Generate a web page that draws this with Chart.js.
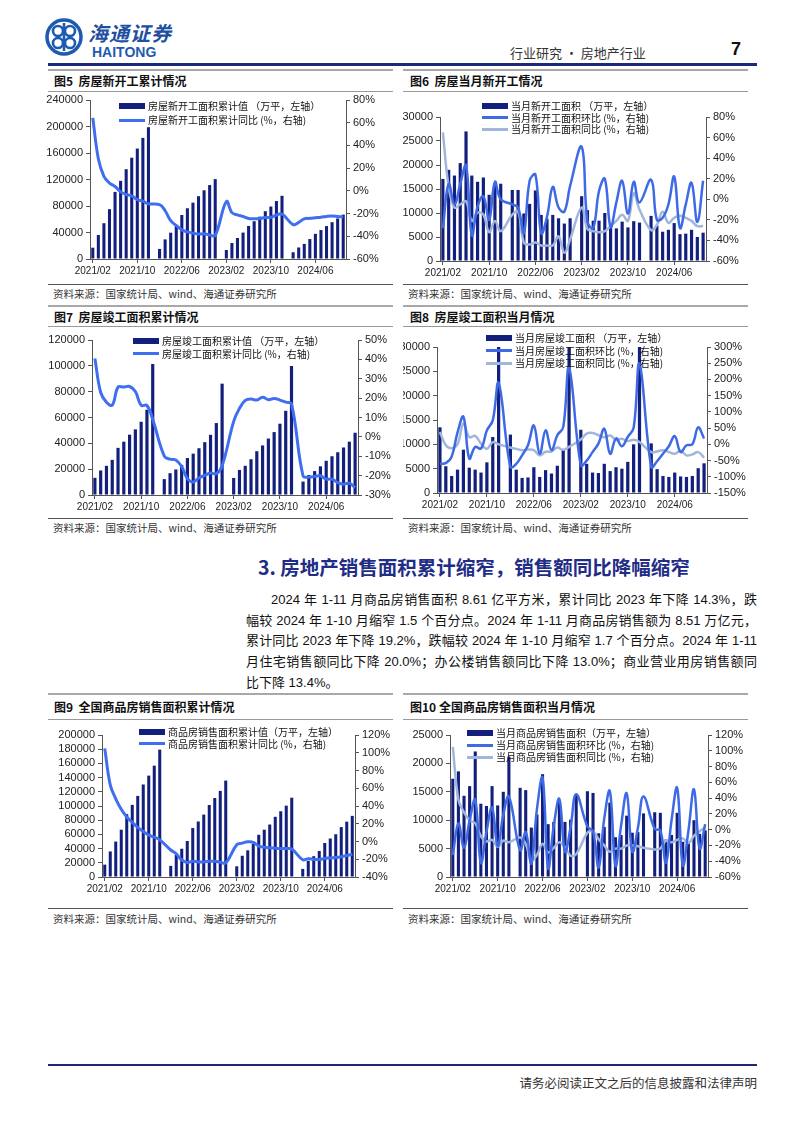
<!DOCTYPE html>
<html>
<head>
<meta charset="utf-8">
<script src="https://cdn.jsdelivr.net/npm/chart.js@4.4.1/dist/chart.umd.min.js"></script>
<style>
  body { margin:0; background:#fff; width:802px; height:1133px; position:relative; overflow:hidden;
         font-family:"Noto Sans CJK SC", sans-serif; color:#111; }
  .hl { position:absolute; height:0; }
  .ftitle { position:absolute; font-size:12px; font-weight:bold; line-height:16px; white-space:nowrap; color:#111; }
  .src { position:absolute; font-size:10.5px; line-height:14px; color:#333; white-space:nowrap; }
  .legend { position:absolute; font-size:10px; color:#111; white-space:nowrap; }
  .legend div { display:flex; align-items:center; }
  .legend .sw { display:inline-block; width:26px; margin-right:3px; }
  canvas { position:absolute; }
  .para div { font-family:"Liberation Sans","Noto Sans CJK SC",sans-serif; font-size:13px; line-height:20.7px;
              text-align:justify; text-align-last:justify; white-space:nowrap; color:#111; }
</style>
</head>
<body>

<!-- header -->
<svg style="position:absolute;left:44px;top:17px" width="40" height="40" viewBox="0 0 40 40">
  <circle cx="20" cy="20" r="17" fill="none" stroke="#1e5bb0" stroke-width="3.5"/>
  <circle cx="14" cy="14" r="5" fill="none" stroke="#1e5bb0" stroke-width="2.6"/>
  <circle cx="26" cy="14" r="5" fill="none" stroke="#1e5bb0" stroke-width="2.6"/>
  <circle cx="14" cy="26" r="5" fill="none" stroke="#1e5bb0" stroke-width="2.6"/>
  <circle cx="26" cy="26" r="5" fill="none" stroke="#1e5bb0" stroke-width="2.6"/>
  <line x1="20" y1="6" x2="20" y2="34" stroke="#1e5bb0" stroke-width="2.6"/>
</svg>
<div style="position:absolute;left:88px;top:18px;font-size:20px;font-style:italic;font-weight:bold;color:#1e4fa0;letter-spacing:1px">海通证券</div>
<div style="position:absolute;left:92px;top:44px;font-family:'Liberation Sans',Arial;font-size:14px;font-weight:bold;color:#1e5bb0">HAITONG</div>
<div style="position:absolute;left:510px;top:43px;font-size:13px;color:#333">行业研究 · 房地产行业</div>
<div style="position:absolute;left:731px;top:39px;font-family:'Liberation Sans',Arial;font-size:18px;font-weight:bold;color:#111">7</div>
<div class="hl" style="left:48px;top:63px;width:709px;border-top:3px solid #1b2a78"></div>

<!-- row 1 frame -->
<div class="hl" style="left:48px;top:69px;width:345px;border-top:2px solid #a8a8a8"></div>
<div class="hl" style="left:403px;top:69px;width:345px;border-top:2px solid #a8a8a8"></div>
<div class="ftitle" style="left:54px;top:73px">图5&nbsp;&nbsp;房屋新开工累计情况</div>
<div class="ftitle" style="left:410px;top:73px">图6&nbsp;&nbsp;房屋当月新开工情况</div>
<div class="hl" style="left:48px;top:91px;width:345px;border-top:1px solid #999"></div>
<div class="hl" style="left:403px;top:91px;width:345px;border-top:1px solid #999"></div>
<div class="hl" style="left:48px;top:284px;width:345px;border-top:1px solid #555"></div>
<div class="hl" style="left:403px;top:284px;width:345px;border-top:1px solid #555"></div>
<div class="src" style="left:53px;top:287px">资料来源：国家统计局、wind、海通证券研究所</div>
<div class="src" style="left:408px;top:287px">资料来源：国家统计局、wind、海通证券研究所</div>

<!-- row 2 frame -->
<div class="hl" style="left:48px;top:305px;width:345px;border-top:2px solid #a8a8a8"></div>
<div class="hl" style="left:403px;top:305px;width:345px;border-top:2px solid #a8a8a8"></div>
<div class="ftitle" style="left:54px;top:309px">图7&nbsp;&nbsp;房屋竣工面积累计情况</div>
<div class="ftitle" style="left:410px;top:309px">图8&nbsp;&nbsp;房屋竣工面积当月情况</div>
<div class="hl" style="left:48px;top:326px;width:345px;border-top:1px solid #999"></div>
<div class="hl" style="left:403px;top:326px;width:345px;border-top:1px solid #999"></div>
<div class="hl" style="left:48px;top:518px;width:345px;border-top:1px solid #555"></div>
<div class="hl" style="left:403px;top:518px;width:345px;border-top:1px solid #555"></div>
<div class="src" style="left:53px;top:521px">资料来源：国家统计局、wind、海通证券研究所</div>
<div class="src" style="left:408px;top:521px">资料来源：国家统计局、wind、海通证券研究所</div>

<!-- section text -->
<div style="position:absolute;left:258px;top:552px;font-size:19.5px;font-weight:bold;color:#1f2d86;white-space:nowrap">3. 房地产销售面积累计缩窄，销售额同比降幅缩窄</div>
<div class="para" style="position:absolute;left:246px;top:590px;width:511px">
  <div style="padding-left:25px">2024 年 1-11 月商品房销售面积 8.61 亿平方米，累计同比 2023 年下降 14.3%，跌</div>
  <div>幅较 2024 年 1-10 月缩窄 1.5 个百分点。2024 年 1-11 月商品房销售额为 8.51 万亿元，</div>
  <div>累计同比 2023 年下降 19.2%，跌幅较 2024 年 1-10 月缩窄 1.7 个百分点。2024 年 1-11</div>
  <div>月住宅销售额同比下降 20.0%；办公楼销售额同比下降 13.0%；商业营业用房销售额同</div>
  <div style="text-align:left;text-align-last:left">比下降 13.4%。</div>
</div>

<!-- row 3 frame -->
<div class="hl" style="left:48px;top:693px;width:345px;border-top:2px solid #a8a8a8"></div>
<div class="hl" style="left:403px;top:693px;width:345px;border-top:2px solid #a8a8a8"></div>
<div class="ftitle" style="left:54px;top:699px">图9&nbsp;&nbsp;全国商品房销售面积累计情况</div>
<div class="ftitle" style="left:410px;top:699px">图10 全国商品房销售面积当月情况</div>
<div class="hl" style="left:48px;top:719px;width:345px;border-top:1px solid #999"></div>
<div class="hl" style="left:403px;top:719px;width:345px;border-top:1px solid #999"></div>
<div class="hl" style="left:48px;top:908px;width:345px;border-top:1px solid #555"></div>
<div class="hl" style="left:403px;top:908px;width:345px;border-top:1px solid #555"></div>
<div class="src" style="left:53px;top:912px">资料来源：国家统计局、wind、海通证券研究所</div>
<div class="src" style="left:408px;top:912px">资料来源：国家统计局、wind、海通证券研究所</div>

<!-- footer -->
<div class="hl" style="left:48px;top:1064px;width:709px;border-top:2px solid #1b2a78"></div>
<div style="position:absolute;right:45px;top:1073px;font-size:12.5px;color:#333;white-space:nowrap">请务必阅读正文之后的信息披露和法律声明</div>

<!-- charts -->
<canvas id="c5" width="348" height="194" style="left:45px;top:90px"></canvas>
<canvas id="c6" width="345" height="190" style="left:403px;top:93px"></canvas>
<canvas id="c7" width="348" height="189" style="left:45px;top:328px"></canvas>
<canvas id="c8" width="345" height="189" style="left:403px;top:328px"></canvas>
<canvas id="c9" width="348" height="186" style="left:45px;top:721px"></canvas>
<canvas id="c10" width="345" height="186" style="left:403px;top:721px"></canvas>

<!-- legends -->
<div class="legend" style="left:119px;top:99px;line-height:14px">
  <div><span class="sw" style="height:6px;background:#131f7c"></span>房屋新开工面积累计值 （万平，左轴）</div>
  <div><span class="sw" style="height:3px;background:#3f6ff0"></span>房屋新开工面积累计同比 (%，右轴)</div>
</div>
<div class="legend" style="left:482px;top:100px;line-height:11.7px">
  <div><span class="sw" style="height:6px;background:#131f7c"></span>当月新开工面积 （万平，左轴）</div>
  <div><span class="sw" style="height:3px;background:#3f6ae6"></span>当月新开工面积环比 (%，右轴)</div>
  <div><span class="sw" style="height:3px;background:#a0b6dc"></span>当月新开工面积同比 (%，右轴)</div>
</div>
<div class="legend" style="left:133px;top:335px;line-height:12.5px">
  <div><span class="sw" style="height:6px;background:#131f7c"></span>房屋竣工面积累计值 （万平，左轴）</div>
  <div><span class="sw" style="height:3px;background:#3f6ff0"></span>房屋竣工面积累计同比 (%，右轴)</div>
</div>
<div class="legend" style="left:486px;top:332px;line-height:12.5px">
  <div><span class="sw" style="height:6px;background:#131f7c"></span>当月房屋竣工面积 （万平，左轴）</div>
  <div><span class="sw" style="height:3px;background:#3f6ae6"></span>当月房屋竣工面积环比 (%，右轴)</div>
  <div><span class="sw" style="height:3px;background:#a0b6dc"></span>当月房屋竣工面积同比 (%，右轴)</div>
</div>
<div class="legend" style="left:139px;top:726px;line-height:11.5px">
  <div><span class="sw" style="height:6px;background:#131f7c"></span>商品房销售面积累计值（万平，左轴）</div>
  <div><span class="sw" style="height:3px;background:#3f6ff0"></span>商品房销售面积累计同比 (%，右轴)</div>
</div>
<div class="legend" style="left:467px;top:727px;line-height:12px">
  <div><span class="sw" style="height:6px;background:#131f7c"></span>当月商品房销售面积（万平，左轴）</div>
  <div><span class="sw" style="height:3px;background:#3f6ae6"></span>当月商品房销售面积环比 (%，右轴)</div>
  <div><span class="sw" style="height:3px;background:#a0b6dc"></span>当月商品房销售面积同比 (%，右轴)</div>
</div>

<script>
// months 2021/02 .. 2024/11 (January values are reported together with February)
const months = [
  '2021/02','2021/03','2021/04','2021/05','2021/06','2021/07','2021/08','2021/09','2021/10','2021/11','2021/12',
  '2022/01','2022/02','2022/03','2022/04','2022/05','2022/06','2022/07','2022/08','2022/09','2022/10','2022/11','2022/12',
  '2023/01','2023/02','2023/03','2023/04','2023/05','2023/06','2023/07','2023/08','2023/09','2023/10','2023/11','2023/12',
  '2024/01','2024/02','2024/03','2024/04','2024/05','2024/06','2024/07','2024/08','2024/09','2024/10','2024/11'
];

// fig 5: new starts, cumulative
const newStartCum = [17100, 36200, 54000, 75200, 101300, 118000, 135600, 152900, 166700, 182800, 198900, null,
  15200, 29600, 39700, 51600, 66400, 76600, 85000, 94800, 103700, 111600, 120600, null,
  13600, 24100, 31700, 39900, 49900, 57000, 63900, 72100, 79200, 87500, 95400, null,
  10200, 17400, 22800, 30100, 38000, 43700, 49700, 55600, 61200, 67000];
const newStartCumYoY = [64.3, 28.2, 12.8, 6.9, 3.8, -0.9, -3.2, -4.5, -7.7, -9.1, -11.4, null,
  -12.2, -17.5, -26.3, -30.6, -34.4, -36.1, -37.2, -38.0, -37.8, -38.9, -39.4, null,
  -9.4, -19.2, -21.2, -22.6, -24.3, -24.5, -24.4, -23.4, -23.2, -21.2, -20.4, null,
  -29.7, -27.8, -24.6, -24.2, -23.7, -23.2, -22.5, -22.2, -22.6, -23.0];

// fig 6: new starts, monthly
const newStartMonth = [17100, 19000, 17800, 20400, 27000, 17800, 16500, 17400, 13800, 16100, 16100, null,
  14800, 14800, 9900, 11900, 14700, 9600, 8800, 9600, 8900, 7800, 8900, null,
  13500, 10600, 8400, 8400, 10000, 7600, 6800, 8200, 7000, 8300, 8000, null,
  9400, 7400, 6100, 6500, 7900, 5600, 5700, 6500, 5000, 5900];
const newStartMoM = [-28, 15, -5, 15, 33, -35, -7, 3, -20, 17, 0, null,
  -5, -8, -33, 18, 24, -33, -17, 12, -8, -12, 13, null,
  51, -22, -28, 8, 20, -27, -3, 18, -14, 17, -3, null,
  19, -20, -18, -5, 22, -28, -5, 16, -22, 18];
const newStartYoY = [65, 12, -8, -5, -2, -21, -13, -15, -32, -21, -31, null,
  -15, -12, -42, -44, -42, -45, -45, -45, -36, -52, -39, null,
  -8, -29, -31, -32, -31, -26, -21, -15, -21, 6, -10, null,
  -30, -25, -12, -23, -18, -16, -18, -21, -26, -26];

// fig 7: completions, cumulative
const compCum = [13300, 19000, 22600, 27200, 36500, 41300, 46700, 50800, 56700, 66000, 101400, null,
  12300, 16900, 19800, 23300, 28600, 32000, 36200, 40900, 46600, 55700, 86200, null,
  13200, 19400, 22600, 27700, 33900, 38400, 43700, 48700, 55200, 65200, 99800, null,
  10400, 15500, 18500, 22200, 26500, 30000, 33100, 36800, 41300, 48200];
const compCumYoY = [40.4, 22.9, 17.9, 16.4, 25.7, 25.7, 26.0, 23.4, 16.3, 16.2, 9.0, null,
  -9.9, -11.5, -11.9, -15.3, -21.5, -23.3, -21.1, -19.9, -18.7, -19.0, -15.0, null,
  8.0, 14.7, 18.8, 19.6, 19.0, 20.5, 19.2, 19.8, 19.0, 17.9, 17.0, null,
  -20.2, -20.7, -20.4, -20.1, -21.8, -21.8, -23.6, -24.4, -23.9, -26.2];

// fig 8: completions, monthly (Dec bars run past the 30000 top)
const compMonth = [13500, 5500, 3500, 4800, 8900, 5200, 4800, 4200, 6300, 11500, 36000, null,
  12000, 4800, 3100, 3200, 5300, 3300, 4700, 4000, 5600, 9000, 31000, null,
  13000, 6000, 4200, 4100, 6000, 4500, 5300, 5000, 6400, 10000, 34500, null,
  10200, 4900, 3500, 3300, 4200, 3400, 3300, 3500, 5100, 6100];
const compMoM = [-60, -58, -38, 37, 85, -44, -8, -13, 43, 74, 189, null,
  -70, -60, -34, -3, 58, -29, 43, -18, 28, 53, 235, null,
  -65, -50, -24, 2, 48, -29, 18, -6, 23, 51, 248, null,
  -70, -52, -29, -6, 25, -24, -3, 0, 52, 18];
const compYoY = [38, -3, -12, 0, 64, 22, 26, 2, -14, 7, 0, null,
  -10, -14, -18, -16, -18, -34, -23, -22, -10, -17, -8, null,
  15, 33, 35, 28, 22, 27, 14, 17, 10, 14, 7, null,
  -24, -22, -18, -24, -29, -20, -34, -31, -24, -41];

// fig 9: sales area, cumulative
const salesCum = [17400, 36000, 49900, 66600, 88600, 101600, 114200, 130300, 142800, 156800, 179400, null,
  15700, 31000, 39800, 50700, 68900, 78200, 87900, 101400, 111200, 121300, 135800, null,
  15100, 29900, 37600, 46400, 59500, 66600, 73900, 84800, 92600, 100500, 111700, null,
  11400, 22700, 29300, 36600, 47900, 54200, 60200, 70300, 77900, 86100];
const salesCumYoY = [104.9, 63.8, 48.1, 36.3, 27.7, 21.5, 15.9, 11.3, 7.2, 4.8, 1.9, null,
  -9.6, -13.8, -20.9, -23.6, -22.2, -23.1, -23.0, -22.2, -22.3, -23.3, -24.3, null,
  -3.6, -1.8, -0.4, -0.9, -5.3, -6.5, -7.1, -7.5, -7.8, -8.0, -8.5, null,
  -20.5, -19.4, -20.2, -20.3, -19.0, -18.6, -18.0, -17.1, -15.8, -14.3];

// fig 10: sales area, monthly
const salesMonth = [17300, 18600, 14300, 16000, 22100, 12900, 12500, 16000, 12600, 15000, 21200, null,
  15700, 15300, 8700, 11000, 18100, 9300, 9700, 13500, 9700, 10100, 14600, null,
  15100, 14800, 7700, 8800, 13100, 7000, 7400, 10800, 7800, 7900, 11200, null,
  11400, 11300, 6600, 7400, 11300, 6200, 6100, 10000, 7600, 8200];
const salesMoM = [-32, 8, -23, 12, 38, -42, -3, 28, -21, 19, 42, null,
  -26, -3, -43, 26, 66, -49, 5, 39, -28, 3, 45, null,
  4, -2, -48, 14, 49, -46, 5, 46, -28, 2, 42, null,
  1, -1, -42, 12, 53, -45, -2, 51, -24, 7];
const salesYoY = [105, 38, 22, 12, 8, -8, -15, -13, -22, -14, -16, null,
  -10, -18, -39, -32, -18, -29, -23, -16, -22, -33, -31, null,
  -4, -2, -12, -20, -28, -24, -24, -20, -20, -21, -23, null,
  -25, -24, -14, -16, -13, -11, -17, -8, -2, 3];

const NAVY = '#131f7c';
const BLUE = '#3f6ff0';
const MOM = '#3f6ae6';
const LIGHT = '#a0b6dc';
const AXIS = '#555';

Chart.defaults.font.family = '"Liberation Sans", Arial, sans-serif';
Chart.defaults.color = '#222';

// box: canvas position (L,T,W,H) and wanted plot area (x0,x1,y0,y1) in page pixels
function makeChart(id, box, bars, lines, left, right) {
  const datasets = [{
    type: 'bar', data: bars, backgroundColor: NAVY, yAxisID: 'y',
    barPercentage: 0.55, categoryPercentage: 1, order: 2
  }];
  lines.forEach(l => datasets.push({
    type: 'line', data: l.data, borderColor: l.color, borderWidth: l.width || 2.5,
    pointRadius: 0, tension: 0.4, spanGaps: true, fill: false, yAxisID: 'y1', order: 1
  }));

  new Chart(document.getElementById(id), {
    type: 'bar',
    data: { labels: months, datasets },
    options: {
      responsive: false,
      animation: false,
      events: [],
      layout: { padding: { top: box.y0 - box.T, left: 0, right: 0, bottom: 0 } },
      plugins: { legend: { display: false }, tooltip: { enabled: false } },
      scales: {
        x: {
          offset: true,
          grid: {
            drawOnChartArea: false, offset: false, tickLength: 4,
            color: c => (c.index % 8 === 0 ? AXIS : 'rgba(0,0,0,0)')
          },
          border: { color: AXIS },
          ticks: {
            autoSkip: false, maxRotation: 0, minRotation: 0, padding: 2,
            font: { size: 10 },
            callback: (v, i) => (i % 8 === 0 ? months[i] : '')
          },
          afterFit: s => { s.height = box.T + box.H - box.y1; }
        },
        y: {
          position: 'left', min: left.min, max: left.max,
          grid: { drawOnChartArea: false, tickLength: 4, color: AXIS },
          border: { color: AXIS },
          ticks: { stepSize: left.step, autoSkip: false, padding: 3, font: { size: 11 }, callback: v => String(v) },
          afterFit: s => { s.width = box.x0 - box.L; }
        },
        y1: {
          position: 'right', min: right.min, max: right.max,
          grid: { drawOnChartArea: false, tickLength: 4, color: AXIS },
          border: { color: AXIS },
          ticks: { stepSize: right.step, autoSkip: false, padding: 3, font: { size: 11 }, callback: v => v + '%' },
          afterFit: s => { s.width = box.L + box.W - box.x1; }
        }
      }
    }
  });
}

makeChart('c5', { L: 45, T: 90, W: 348, H: 194, x0: 90, x1: 346, y0: 100, y1: 259 },
  newStartCum, [{ data: newStartCumYoY, color: BLUE, width: 3 }],
  { min: 0, max: 240000, step: 40000 }, { min: -60, max: 80, step: 20 });

makeChart('c6', { L: 403, T: 93, W: 345, H: 190, x0: 440, x1: 706, y0: 117, y1: 261 },
  newStartMonth, [{ data: newStartMoM, color: MOM }, { data: newStartYoY, color: LIGHT }],
  { min: 0, max: 30000, step: 5000 }, { min: -60, max: 80, step: 20 });

makeChart('c7', { L: 45, T: 328, W: 348, H: 189, x0: 92, x1: 358, y0: 340, y1: 495 },
  compCum, [{ data: compCumYoY, color: BLUE, width: 3 }],
  { min: 0, max: 120000, step: 20000 }, { min: -30, max: 50, step: 10 });

makeChart('c8', { L: 403, T: 328, W: 345, H: 189, x0: 437, x1: 707, y0: 347, y1: 493 },
  compMonth, [{ data: compMoM, color: MOM }, { data: compYoY, color: LIGHT }],
  { min: 0, max: 30000, step: 5000 }, { min: -150, max: 300, step: 50 });

makeChart('c9', { L: 45, T: 721, W: 348, H: 186, x0: 102, x1: 355, y0: 735, y1: 877 },
  salesCum, [{ data: salesCumYoY, color: BLUE, width: 3 }],
  { min: 0, max: 200000, step: 20000 }, { min: -40, max: 120, step: 20 });

makeChart('c10', { L: 403, T: 721, W: 345, H: 186, x0: 450, x1: 708, y0: 735, y1: 877 },
  salesMonth, [{ data: salesMoM, color: MOM }, { data: salesYoY, color: LIGHT }],
  { min: 0, max: 25000, step: 5000 }, { min: -60, max: 120, step: 20 });
</script>
</body>
</html>
